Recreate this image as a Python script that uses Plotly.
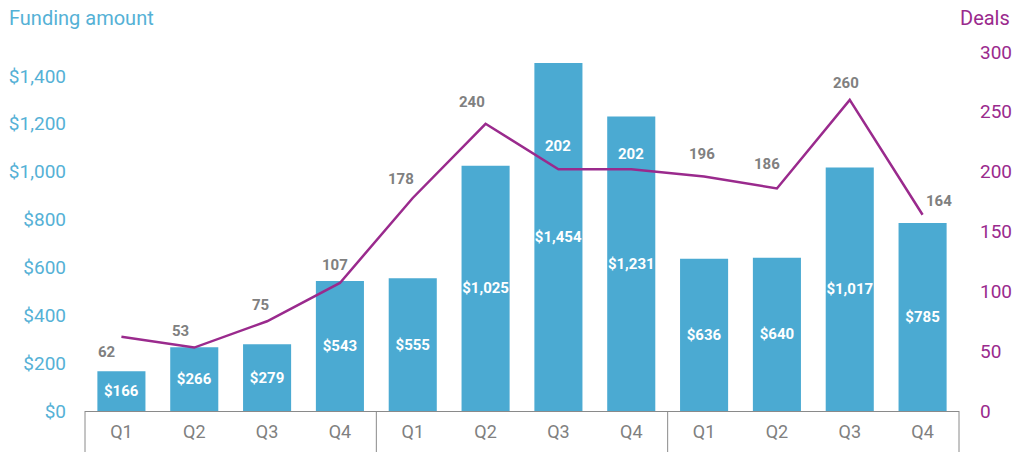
import plotly.graph_objects as go

quarters = ["Q1", "Q2", "Q3", "Q4", "Q1", "Q2", "Q3", "Q4", "Q1", "Q2", "Q3", "Q4"]
funding = [166, 266, 279, 543, 555, 1025, 1454, 1231, 636, 640, 1017, 785]
deals = [62, 53, 75, 107, 178, 240, 202, 202, 196, 186, 260, 164]
left_ticks = [0, 200, 400, 600, 800, 1000, 1200, 1400]
right_ticks = [0, 50, 100, 150, 200, 250, 300]

# label styling (pixel offsets for deal labels)
deal_dx = [-14, -14, -7, -5, -12, -14, 0, 0, -2, -10, -4, 16]
deal_dy = [-15, 17, 16, 18, 19, 22, 23, 15, 22, 24, 17, 14]
deal_col = ["#808080"] * 6 + ["#ffffff", "#ffffff"] + ["#808080"] * 4

BAR = "#4BAAD2"
LINE = "#9A2A8D"
LBLUE = "#55B1D6"
GRAY = "#808080"
FONT = "Roboto"

x = list(range(len(quarters)))

fig = go.Figure()
fig.add_trace(go.Bar(
    x=x, y=funding, marker_color=BAR, marker_line_width=0,
    text=[f"${v:,}" for v in funding], textposition="inside",
    insidetextanchor="middle", textangle=0, constraintext="none",
    textfont=dict(family=FONT, size=15, color="white", weight="bold"),
    yaxis="y", showlegend=False,
))
fig.add_trace(go.Scatter(
    x=x, y=deals, mode="lines", line=dict(color=LINE, width=2.5),
    yaxis="y2", showlegend=False,
))

for i, v in enumerate(deals):
    fig.add_annotation(
        x=x[i], y=v, xref="x", yref="y2", text=f"<b>{v}</b>",
        showarrow=False, xshift=deal_dx[i], yshift=deal_dy[i],
        font=dict(family=FONT, size=15, color=deal_col[i]),
    )

PW = 1016 - 85 - 57
PH = 452 - 52 - 41
fig.add_annotation(x=0, y=1, xref="paper", yref="paper", xanchor="left", yanchor="middle",
                   xshift=-78, yshift=34, text="Funding amount", showarrow=False,
                   font=dict(family=FONT, size=20, color=LBLUE))
fig.add_annotation(x=1, y=1, xref="paper", yref="paper", xanchor="right", yanchor="middle",
                   xshift=53, yshift=34, text="Deals", showarrow=False,
                   font=dict(family=FONT, size=20, color=LINE))

for xv in [0, 1/3, 2/3, 1]:
    fig.add_shape(type="line", xref="paper", yref="paper", x0=xv, x1=xv,
                  y0=0, y1=-45 / PH, line=dict(color="#8a8a8a", width=1))

fig.update_layout(
    width=1016, height=452,
    margin=dict(l=85, r=57, t=52, b=41, autoexpand=False),
    plot_bgcolor="white", paper_bgcolor="white",
    bargap=0.34,
    xaxis=dict(
        tickmode="array", tickvals=x, ticktext=quarters, range=[-0.5, 11.5],
        showgrid=False, zeroline=False, showline=True, linecolor="#8a8a8a", linewidth=1,
        ticks="", tickfont=dict(family=FONT, size=18, color=GRAY), ticklabelstandoff=4,
        automargin=False,
    ),
    yaxis=dict(
        range=[0, 1500], tickmode="array", tickvals=left_ticks,
        ticktext=[f"${v:,}" for v in left_ticks],
        showgrid=False, zeroline=False, showline=False, ticks="",
        tickfont=dict(family=FONT, size=19, color=LBLUE), ticklabelstandoff=18,
        automargin=False,
    ),
    yaxis2=dict(
        range=[0, 300], tickmode="array", tickvals=right_ticks, overlaying="y", side="right",
        showgrid=False, zeroline=False, showline=False, ticks="",
        tickfont=dict(family=FONT, size=19, color=LINE), ticklabelstandoff=20,
        automargin=False,
    ),
)

fig.write_html("out.html", config={"displayModeBar": False},
               post_script="document.body.style.margin='0';")
